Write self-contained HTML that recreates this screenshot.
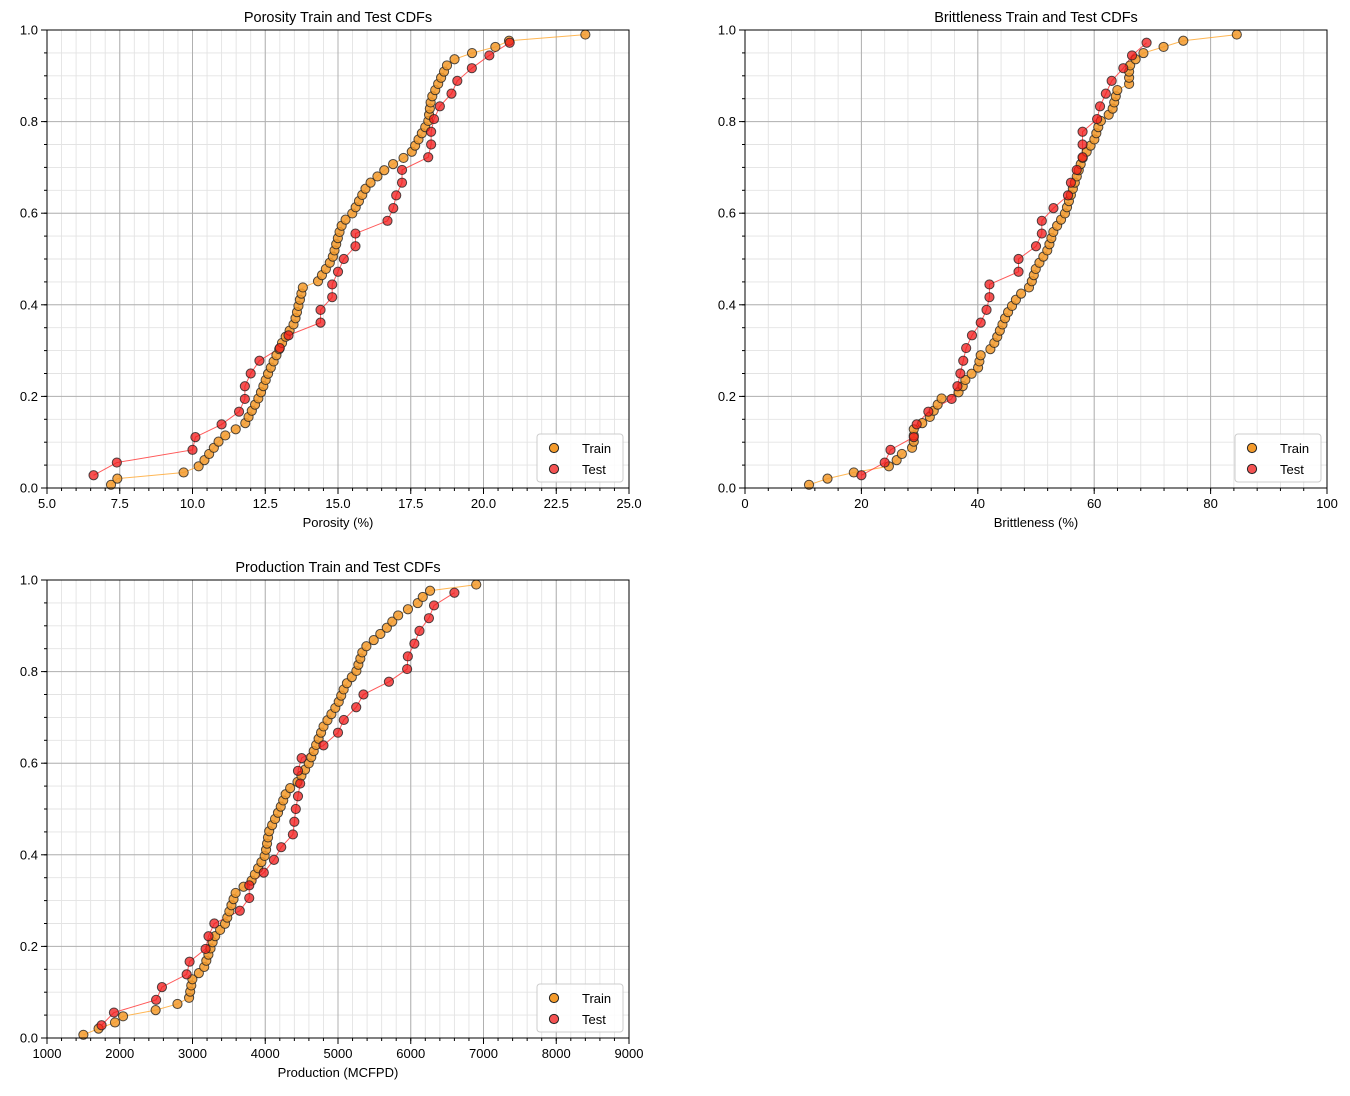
<!DOCTYPE html>
<html><head><meta charset="utf-8"><style>body{margin:0;background:#fff}svg{display:block;font-family:"Liberation Sans","DejaVu Sans",sans-serif}</style></head>
<body><svg id="s" width="1350" height="1096" xmlns="http://www.w3.org/2000/svg"></svg>
<script>
const S=document.getElementById('s');let h='';
function interp(kn,y){for(let i=1;i<kn.length;i++){if(y<=kn[i][1]){const a=kn[i-1],b=kn[i];const t=(y-a[1])/((b[1]-a[1])||1);return a[0]+t*(b[0]-a[0]);}}return kn[kn.length-1][0];}
function plot(o){const{x0,y0,w,hh,xmin,xmax,major,minor,labels,dec,title,xl,train,test}=o;
const X=v=>x0+(v-xmin)/(xmax-xmin)*w,Y=v=>y0+hh-v*hh;
for(let v=xmin;v<=xmax+1e-9;v+=minor){h+=`<line x1="${X(v)}" y1="${y0}" x2="${X(v)}" y2="${y0+hh}" stroke="#e3e3e3" stroke-width="0.9"/>`;}
for(let v=0;v<=1.0001;v+=0.05){h+=`<line x1="${x0}" y1="${Y(v)}" x2="${x0+w}" y2="${Y(v)}" stroke="#e3e3e3" stroke-width="0.9"/>`;}
for(let v=xmin+major;v<xmax-1e-9;v+=major){h+=`<line x1="${X(v)}" y1="${y0}" x2="${X(v)}" y2="${y0+hh}" stroke="#b0b0b0" stroke-width="1"/>`;}
for(let v=0.2;v<0.99;v+=0.2){h+=`<line x1="${x0}" y1="${Y(v)}" x2="${x0+w}" y2="${Y(v)}" stroke="#b0b0b0" stroke-width="1"/>`;}
for(let v=xmin;v<=xmax+1e-9;v+=minor)h+=`<line x1="${X(v)}" y1="${y0+hh}" x2="${X(v)}" y2="${y0+hh+3}" stroke="#000"/>`;
for(let v=0;v<=1.0001;v+=0.05)h+=`<line x1="${x0}" y1="${Y(v)}" x2="${x0-3}" y2="${Y(v)}" stroke="#000"/>`;
for(let v=xmin;v<=xmax+1e-9;v+=labels){h+=`<line x1="${X(v)}" y1="${y0+hh}" x2="${X(v)}" y2="${y0+hh+6}" stroke="#000"/><text x="${X(v)}" y="${y0+hh+20}" font-size="13" text-anchor="middle">${v.toFixed(dec)}</text>`;}
for(let v=0;v<=1.0001;v+=0.2){h+=`<line x1="${x0}" y1="${Y(v)}" x2="${x0-6}" y2="${Y(v)}" stroke="#000"/><text x="${x0-9}" y="${Y(v)+4.5}" font-size="13" text-anchor="end">${v.toFixed(1)}</text>`;}
h+=`<text x="${x0+w/2}" y="${y0-8}" font-size="14.5" text-anchor="middle">${title}</text><text x="${x0+w/2}" y="${y0+hh+39}" font-size="13" text-anchor="middle">${xl}</text>`;
const n=74,tr=[];for(let i=0;i<n;i++){const y=0.007+i*(0.99-0.007)/(n-1);tr.push([interp(train,y),y]);}
h+=`<polyline fill="none" stroke="#ff9f1c" stroke-opacity="0.75" stroke-width="1" points="${tr.map(p=>X(p[0])+','+Y(p[1])).join(' ')}"/>`;
h+=`<polyline fill="none" stroke="#ff3030" stroke-opacity="0.8" stroke-width="1" points="${test.map(p=>X(p[0])+','+Y(p[1])).join(' ')}"/>`;
tr.forEach(p=>h+=`<circle cx="${X(p[0])}" cy="${Y(p[1])}" r="4.6" fill="#f39a2b" fill-opacity="0.85" stroke="#222" stroke-opacity="0.8"/>`);
test.forEach(p=>h+=`<circle cx="${X(p[0])}" cy="${Y(p[1])}" r="4.6" fill="#f01818" fill-opacity="0.75" stroke="#222" stroke-opacity="0.8"/>`);
h+=`<rect x="${x0}" y="${y0}" width="${w}" height="${hh}" fill="none" stroke="#000" stroke-width="1"/>`;
const lx=x0+w-92,ly=y0+hh-54;
h+=`<rect x="${lx}" y="${ly}" width="86" height="48" rx="3" fill="#fff" fill-opacity="0.85" stroke="#ccc"/>`;
h+=`<circle cx="${lx+17}" cy="${ly+14}" r="4.6" fill="#f39a2b" stroke="#222"/><text x="${lx+45}" y="${ly+19}" font-size="13">Train</text>`;
h+=`<circle cx="${lx+17}" cy="${ly+35}" r="4.6" fill="#f01818" fill-opacity="0.75" stroke="#222"/><text x="${lx+45}" y="${ly+40}" font-size="13">Test</text>`;}
function ty(arr){return arr.map((v,i)=>[v,(i+1)/36]);}
plot({x0:47,y0:30,w:582,hh:458,xmin:5,xmax:25,major:2.5,minor:0.5,labels:2.5,dec:1,title:"Porosity Train and Test CDFs",xl:"Porosity (%)",
train:[[7.2,0.007],[7.3,0.02],[9.3,0.028],[10.1,0.04],[10.4,0.06],[11,0.11],[11.8,0.14],[12.3,0.2],[12.6,0.25],[13.1,0.32],[13.5,0.36],[13.8,0.44],[14.3,0.45],[14.8,0.5],[15.1,0.57],[15.3,0.59],[15.5,0.6],[16,0.66],[16.7,0.7],[17.5,0.73],[18.1,0.8],[18.2,0.85],[18.8,0.93],[19.3,0.945],[20.3,0.96],[21,0.98],[23.5,0.99]],
test:ty([6.6,7.4,10,10.1,11,11.6,11.8,11.8,12,12.3,13,13.3,14.4,14.4,14.8,14.8,15,15.2,15.6,15.6,16.7,16.9,17,17.2,17.2,18.1,18.2,18.2,18.3,18.5,18.9,19.1,19.6,20.2,20.9])});
plot({x0:745,y0:30,w:582,hh:458,xmin:0,xmax:100,major:20,minor:4,labels:20,dec:0,title:"Brittleness Train and Test CDFs",xl:"Brittleness (%)",
train:[[11,0.007],[14,0.02],[17,0.028],[19,0.035],[25,0.048],[26,0.06],[27,0.075],[29,0.09],[29,0.13],[31.5,0.15],[33,0.18],[34,0.2],[37,0.21],[38,0.24],[40,0.26],[40.5,0.29],[42,0.3],[43,0.32],[45,0.38],[47,0.42],[49,0.44],[50,0.48],[52,0.52],[53,0.56],[55,0.6],[57,0.68],[58,0.72],[60,0.76],[61,0.8],[63,0.82],[64,0.87],[66,0.88],[66,0.92],[67,0.935],[69,0.955],[71,0.96],[74,0.97],[76,0.98],[84.5,0.99]],
test:ty([20,24,25,29,29.5,31.5,35.5,36.5,37,37.5,38,39,40.5,41.5,42,42,47,47,50,51,51,53,55.5,56,57,58,58,58,60.5,61,62,63,65,66.5,69])});
plot({x0:47,y0:580,w:582,hh:458,xmin:1000,xmax:9000,major:1000,minor:200,labels:1000,dec:0,title:"Production Train and Test CDFs",xl:"Production (MCFPD)",
train:[[1500,0.007],[1700,0.02],[1850,0.028],[1950,0.035],[2050,0.048],[2200,0.055],[2700,0.065],[2800,0.075],[2950,0.085],[3000,0.13],[3150,0.15],[3300,0.22],[3450,0.25],[3600,0.32],[3800,0.34],[4000,0.4],[4050,0.45],[4200,0.5],[4300,0.54],[4450,0.56],[4600,0.6],[4800,0.68],[5000,0.73],[5100,0.77],[5250,0.8],[5350,0.85],[5500,0.87],[5700,0.9],[5800,0.92],[6000,0.94],[6100,0.95],[6200,0.97],[6300,0.98],[6900,0.99]],
test:ty([1750,1920,2500,2580,2920,2960,3180,3220,3300,3650,3780,3780,3980,4120,4220,4380,4400,4420,4450,4480,4450,4500,4800,5000,5080,5250,5350,5700,5950,5960,6050,6120,6250,6320,6600])});
S.innerHTML=h;
</script></body></html>
